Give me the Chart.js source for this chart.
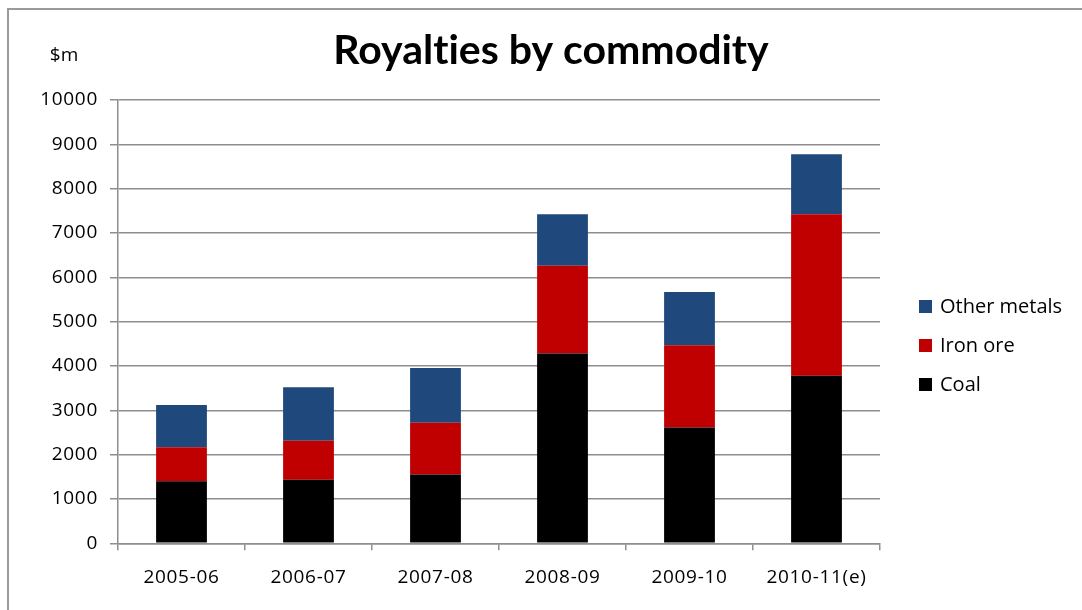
<!DOCTYPE html>
<html>
<head>
<meta charset="utf-8">
<script src="https://cdn.jsdelivr.net/npm/chart.js@4"></script>
<style>
  html, body { margin: 0; padding: 0; background: #fff; }
  #wrap { width: 1082px; height: 610px; position: relative; }
</style>
</head>
<body>
<div id="wrap"><canvas id="chart" width="1082" height="610"></canvas></div>
<script>
// data ($m)
const categories = ['2005-06', '2006-07', '2007-08', '2008-09', '2009-10', '2010-11(e)'];
const coal = [1400, 1435, 1550, 4280, 2610, 3780];
const ironOre = [765, 880, 1170, 1980, 1860, 3640];
const otherMetals = [955, 1205, 1235, 1165, 1200, 1355];
const yTicks = [0, 10000, 1000];

const gridGrey = '#8e8e8e';
const font = 'Open Sans';

// frame, title, unit label and legend
const decor = {
  id: 'decor',
  beforeDraw(chart) {
    // tick text in the original is set a touch wider
    chart.ctx.letterSpacing = '0.7px';
  },
  afterDraw(chart) {
    const ctx = chart.ctx;
    ctx.letterSpacing = '0px';
    ctx.save();
    ctx.strokeStyle = '#9a9a9a';
    ctx.lineWidth = 2;
    ctx.beginPath();
    ctx.moveTo(8, 610);
    ctx.lineTo(8, 9);
    ctx.lineTo(1082, 9);
    ctx.stroke();

    ctx.fillStyle = '#000';
    ctx.textBaseline = 'middle';
    ctx.textAlign = 'center';
    ctx.font = 'bold 41px Lato';
    ctx.fillText('Royalt\u200Cies by commodity', 551, 51);
    ctx.font = '19px ' + font;
    ctx.fillText('$m', 64, 56);

    // legend, reversed like the stack
    const items = chart.data.datasets.slice().reverse();
    ctx.textAlign = 'left';
    ctx.font = '20px ' + font;
    items.forEach((ds, i) => {
      const y = 306 + i * 39;
      ctx.fillStyle = ds.backgroundColor;
      ctx.fillRect(919, y - 6, 13, 13);
      ctx.fillStyle = '#000';
      ctx.fillText(ds.label, 940, y + 1);
    });
    ctx.restore();
  }
};

new Chart(document.getElementById('chart'), {
  type: 'bar',
  data: {
    labels: categories,
    datasets: [
      { label: 'Coal', data: coal, backgroundColor: '#000000' },
      { label: 'Iron ore', data: ironOre, backgroundColor: '#c00000' },
      { label: 'Other metals', data: otherMetals, backgroundColor: '#1f497d' }
    ]
  },
  options: {
    responsive: false,
    animation: false,
    devicePixelRatio: 1,
    layout: { padding: { top: 100, right: 202, left: 0, bottom: 0 } },
    plugins: { legend: { display: false }, title: { display: false }, tooltip: { enabled: false } },
    datasets: { bar: { barPercentage: 0.4, categoryPercentage: 1 } },
    scales: {
      x: {
        stacked: true,
        afterFit(scale) { scale.height = 66.7; },
        grid: { offset: true, drawOnChartArea: false, color: gridGrey, lineWidth: 1.5, tickLength: 7 },
        border: { color: gridGrey, width: 1.5 },
        ticks: { color: '#000', font: { family: font, size: 19 }, padding: 16, maxRotation: 0 }
      },
      y: {
        stacked: true,
        min: yTicks[0],
        max: yTicks[1],
        afterFit(scale) { scale.width = 118; },
        grid: { color: gridGrey, lineWidth: 1.5, tickLength: 8 },
        border: { color: gridGrey, width: 1.5 },
        ticks: {
          stepSize: yTicks[2], color: '#000', font: { family: font, size: 19 }, padding: 12,
          callback: (v) => String(v)
        }
      }
    }
  },
  plugins: [decor]
});
</script>
</body>
</html>
